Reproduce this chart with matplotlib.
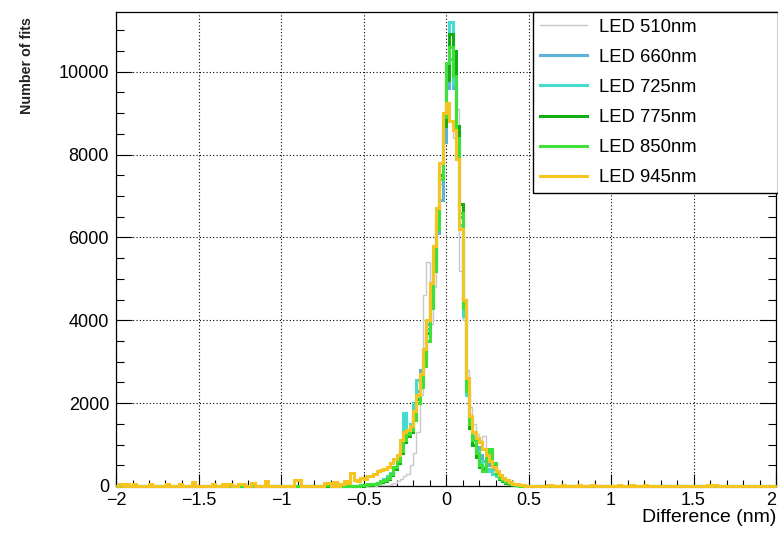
import numpy as np
import matplotlib
matplotlib.use("Agg")
import matplotlib.pyplot as plt
from matplotlib.ticker import MultipleLocator

plt.rcParams["font.family"] = ["Liberation Sans", "DejaVu Sans"]

# histogram binning: 200 bins of 0.02 nm between -2 and 2
bin_lo, bin_hi, bin_w = -2.0, 2.0, 0.02
core_lo = -0.6  # first bin of the listed core counts (60 bins up to +0.6)

labels = ["LED 510nm", "LED 660nm", "LED 725nm", "LED 775nm", "LED 850nm", "LED 945nm"]
colors = ["#c8c8c8", "#5cb3d8", "#45dccf", "#14ac14", "#3ee03a", "#f5c421"]

core_510 = [0, 0, 0, 0, 5, 5, 10, 10, 10, 15,
            20, 20, 30, 50, 80, 120, 180, 250, 280, 500,
            800, 1300, 2200, 4600, 5400, 3900, 4800, 6200, 7300, 8300,
            9000, 8800, 8400, 9100, 5200, 4000, 2800, 1900, 1500, 1250,
            1100, 1200, 800, 550, 380, 250, 160, 100, 60, 40,
            25, 15, 10, 5, 0, 0, 0, 0, 0, 0]
core_660 = [0, 0, 0, 10, 10, 20, 30, 40, 50, 70,
            100, 140, 200, 280, 420, 600, 900, 1300, 1300, 1450,
            1900, 2300, 2800, 3300, 3900, 4600, 5300, 6100, 6900, 8300,
            9600, 10300, 9600, 8300, 6500, 4400, 2500, 1600, 1200, 950,
            750, 600, 550, 500, 400, 300, 200, 140, 90, 60,
            40, 25, 15, 8, 4, 0, 0, 0, 0, 0]
core_725 = [0, 0, 0, 10, 15, 20, 30, 45, 60, 80,
            110, 160, 230, 320, 450, 650, 1100, 1750, 1350, 1500,
            2000, 2550, 2700, 3100, 3800, 4600, 5600, 6700, 7500, 8700,
            9900, 11200, 9700, 8000, 6300, 4100, 2200, 1500, 1150, 850,
            600, 450, 400, 350, 300, 250, 180, 120, 80, 50,
            30, 20, 10, 5, 0, 0, 0, 0, 0, 0]
core_775 = [0, 0, 0, 5, 10, 15, 25, 35, 50, 70,
            90, 130, 180, 260, 400, 550, 800, 1050, 1200, 1300,
            1700, 2100, 2600, 3100, 3700, 4500, 5500, 6400, 7500, 8700,
            9800, 10900, 10500, 8700, 6800, 4500, 2400, 1400, 1000, 700,
            450, 400, 600, 800, 500, 280, 180, 120, 80, 50,
            30, 20, 10, 5, 0, 0, 0, 0, 0, 0]
core_850 = [0, 0, 10, 10, 20, 30, 40, 50, 60, 80,
            110, 150, 200, 300, 450, 600, 850, 1100, 1250, 1350,
            1600, 2000, 2400, 2900, 3500, 4300, 5200, 6200, 7400, 8900,
            10200, 10600, 9900, 8400, 6600, 4300, 2300, 1500, 1100, 800,
            500, 350, 700, 900, 550, 300, 200, 150, 100, 60,
            40, 20, 10, 5, 0, 0, 0, 0, 0, 0]
core_945 = [80, 310, 150, 120, 200, 180, 250, 230, 300, 350,
            380, 420, 450, 550, 650, 750, 1100, 1300, 1350, 1450,
            1800, 2200, 2700, 3300, 4000, 4900, 5800, 6700, 7800, 9000,
            9250, 8800, 8600, 7900, 6200, 4500, 2600, 1700, 1300, 1150,
            1050, 900, 750, 600, 460, 350, 260, 190, 140, 90,
            60, 40, 25, 15, 10, 5, 5, 0, 0, 0]

# sparse outliers outside the core range (bin centre, count)
tail_x_850 = [-0.73, -0.71]
tail_n_850 = [20, 20]
tail_x_945 = [-1.97, -1.93, -1.89, -1.79, -1.69, -1.61, -1.53, -1.41, -1.35, -1.31,
              -1.25, -1.23, -1.17, -1.09, -0.91, -0.89, -0.73, -0.71, -0.67, -0.63,
              -0.61, 0.63, 0.71, 0.81, 0.89, 1.05, 1.13, 1.21, 1.59, 1.63]
tail_n_945 = [60, 50, 60, 50, 50, 60, 100, 60, 60, 50,
              60, 50, 70, 110, 140, 140, 80, 80, 90, 40,
              120, 30, 20, 30, 20, 30, 20, 30, 30, 20]

cores = [core_510, core_660, core_725, core_775, core_850, core_945]
tails = [([], []), ([], []), ([], []), ([], []), (tail_x_850, tail_n_850), (tail_x_945, tail_n_945)]

edges = np.linspace(bin_lo, bin_hi, int(round((bin_hi - bin_lo) / bin_w)) + 1)


def full_counts(core, tx, tn):
    counts = np.zeros(len(edges) - 1)
    i0 = int(round((core_lo - bin_lo) / bin_w))
    counts[i0:i0 + len(core)] = core
    for x, n in zip(tx, tn):
        counts[int(np.floor((x - bin_lo) / bin_w + 1e-9))] += n
    return counts


fig = plt.figure(figsize=(7.78, 5.35), dpi=100)
ax = fig.add_axes([116 / 778, 49 / 535, 660 / 778, 474 / 535])

for core, (tx, tn), col, lab in zip(cores, tails, colors, labels):
    lw = 1.0 if lab == "LED 510nm" else 2.2
    ax.stairs(full_counts(core, tx, tn), edges, color=col, lw=lw, label=lab,
              baseline=0, clip_on=False, zorder=3)

ax.set_xlim(-2, 2)
ax.set_ylim(0, 11440)

ax.xaxis.set_major_locator(MultipleLocator(0.5))
ax.xaxis.set_minor_locator(MultipleLocator(0.1))
ax.yaxis.set_major_locator(MultipleLocator(2000))
ax.yaxis.set_minor_locator(MultipleLocator(500))
ax.xaxis.set_major_formatter(plt.FuncFormatter(lambda v, p: f"{v:g}".replace("-", "\u2212")))

ax.grid(True, which="major", color="black", ls=(0, (1, 2)), lw=0.8)
ax.tick_params(axis="x", which="both", direction="in", top=False, bottom=True, labelsize=13, pad=4)
ax.tick_params(axis="x", which="major", length=8.6, width=0.8)
ax.tick_params(axis="x", which="minor", length=4.3, width=0.8)
ax.tick_params(axis="y", which="both", direction="in", left=True, right=True, labelsize=13, pad=5)
ax.tick_params(axis="y", which="major", length=11.5, width=0.8)
ax.tick_params(axis="y", which="minor", length=5.8, width=0.8)
for s in ax.spines.values():
    s.set_linewidth(0.9)

# the "2" at the right end would spill over the figure edge
fig.canvas.draw()
for lbl in ax.get_xticklabels():
    if lbl.get_text() == "2":
        lbl.set_horizontalalignment("right")

fig.text(776 / 778, 1 - 522 / 535, "Difference (nm)", ha="right", va="baseline", fontsize=14)
fig.text(27 / 778, 1 - 17 / 535, "Number of fits", rotation=90, ha="center", va="top",
         fontsize=10.3, fontweight="bold", color="#222222")

leg = ax.legend(loc="upper left", bbox_to_anchor=(533 / 778, 0, 245 / 778, 1 - 12 / 535),
                bbox_transform=fig.transFigure, mode="expand", borderaxespad=0,
                fontsize=13.3, handlelength=2.55, handletextpad=0.65, labelspacing=0.71,
                borderpad=0.36, fancybox=False, framealpha=1, edgecolor="black")
leg.get_frame().set_linewidth(1.0)
leg.set_zorder(5)

fig.savefig("out.png", dpi=100)
